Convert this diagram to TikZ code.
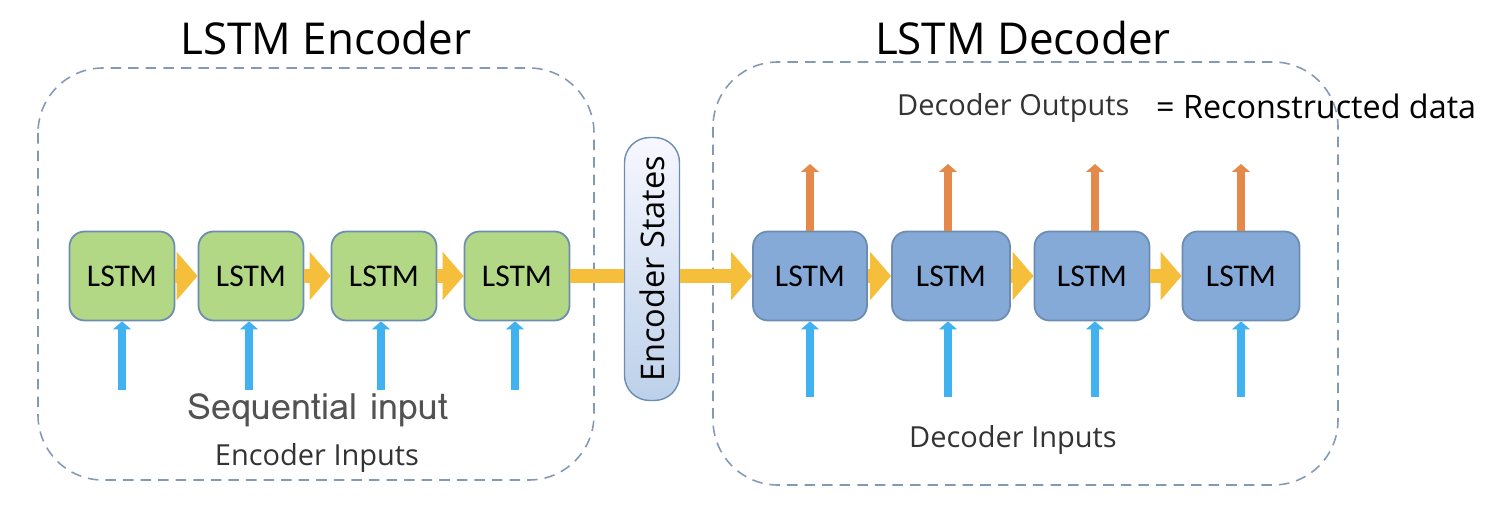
\documentclass[tikz,border=0pt]{standalone}
\usepackage{fontspec}
\setmainfont{Carlito}
\newfontfamily\labelfont{Open Sans}
\newfontfamily\seqfont{Loma}
\usetikzlibrary{arrows.meta,calc}

\definecolor{encgreen}{HTML}{B2D886}
\definecolor{decblue}{HTML}{85AAD8}
\definecolor{cellline}{HTML}{6C8CB2}
\definecolor{groupline}{HTML}{8499B6}
\definecolor{stateyellow}{HTML}{F5BF3C}
\definecolor{outorange}{HTML}{E4894A}
\definecolor{inblue}{HTML}{3FB2EF}

\tikzset{
    cell/.style={draw=cellline, line width=1pt, rounded corners=0.3cm,
        minimum width=2.1cm, minimum height=1.78cm, inner sep=0pt,
        font=\fontsize{18}{20}\selectfont},
    enccell/.style={cell, fill=encgreen},
    deccell/.style={cell, fill=decblue},
    groupbox/.style={draw=groupline, line width=0.9pt, dash pattern=on 6pt off 4pt, rounded corners=1.3cm},
    statearrow/.style={draw=stateyellow, line width=8.5pt, -{Triangle[width=27pt,length=12pt]}},
    stateline/.style={draw=stateyellow, line width=8.5pt},
    inarrow/.style={draw=inblue, line width=4.5pt, -{Triangle[width=10pt,length=4.5pt]}},
    outarrow/.style={draw=outorange, line width=4.5pt, -{Triangle[width=10pt,length=4.5pt]}},
    smalllabel/.style={font=\labelfont\fontsize{16.5}{19}\selectfont, text=black!80}
}

\begin{document}
\begin{tikzpicture}[x=0.02cm, y=-0.02cm]
    \useasboundingbox (0,0) rectangle (1492,509);

    % group outlines
    \draw[groupbox] (38,68) rectangle (594,480);
    \draw[groupbox] (713,62) rectangle (1338,485);

    % titles
    \node[font=\labelfont\fontsize{25}{28}\selectfont] (enctitle) at (326,38) {LSTM Encoder};
    \node[font=\labelfont\fontsize{25}{28}\selectfont] (dectitle) at (1023,38) {LSTM Decoder};

    % encoder cells
    \node[enccell] (enc1) at (122,276) {LSTM};
    \node[enccell] (enc2) at (251,276) {LSTM};
    \node[enccell] (enc3) at (384,276) {LSTM};
    \node[enccell] (enc4) at (517,276) {LSTM};

    % decoder cells
    \node[deccell, minimum width=2.28cm] (dec1) at (810,276) {LSTM};
    \node[deccell, minimum width=2.36cm] (dec2) at (951,276) {LSTM};
    \node[deccell, minimum width=2.3cm] (dec3) at (1092,276) {LSTM};
    \node[deccell, minimum width=2.34cm] (dec4) at (1241,276) {LSTM};

    % hidden state arrows
    \draw[statearrow] (enc1) -- (enc2);
    \draw[statearrow] (enc2) -- (enc3);
    \draw[statearrow] (enc3) -- (enc4);
    \draw[statearrow] (dec1) -- (dec2);
    \draw[statearrow] (dec2) -- (dec3);
    \draw[statearrow] (dec3) -- (dec4);

    % encoder states
    \node[draw=cellline, line width=0.8pt, rounded corners=0.5cm, top color=blue!3, bottom color=decblue!55,
        minimum width=1.1cm, minimum height=5.26cm] (states) at (652,269) {};
    \draw[stateline] (enc4.east) -- (enc4.east -| states.west);
    \draw[statearrow] (dec1.west -| states.east) -- (dec1.west);
    \node[rotate=90, font=\labelfont\fontsize{18.5}{20}\selectfont] (statestext) at (states) {Encoder States};

    % inputs and outputs
    \foreach \i/\x in {1/122,2/249,3/381,4/515}
        \coordinate (ein\i) at (\x,390);
    \foreach \i/\x in {1/810,2/948,3/1095,4/1241}{
        \coordinate (din\i) at (\x,397);
        \coordinate (dout\i) at (\x,164);
    }
    \foreach \i in {1,...,4}{
        \draw[inarrow] (ein\i) -- (ein\i |- enc\i.south);
        \draw[inarrow] (din\i) -- (din\i |- dec\i.south);
        \draw[outarrow] (din\i |- dec\i.north) -- (dout\i);
    }

    % labels
    \node[font=\seqfont\fontsize{20.5}{24}\selectfont, text=black!68] (seqlabel) at (318,410) {Sequential input};
    \node[smalllabel] (enclabel) at (317,458) {Encoder Inputs};
    \node[smalllabel] (declabel) at (1013,440) {Decoder Inputs};
    \node[smalllabel, anchor=west] (outlabel) at (891,108) {Decoder Outputs};
    \node[font=\labelfont\fontsize{18.4}{21}\selectfont, anchor=west] (reclabel) at (1150,106) {= Reconstructed data};
\end{tikzpicture}
\end{document}
